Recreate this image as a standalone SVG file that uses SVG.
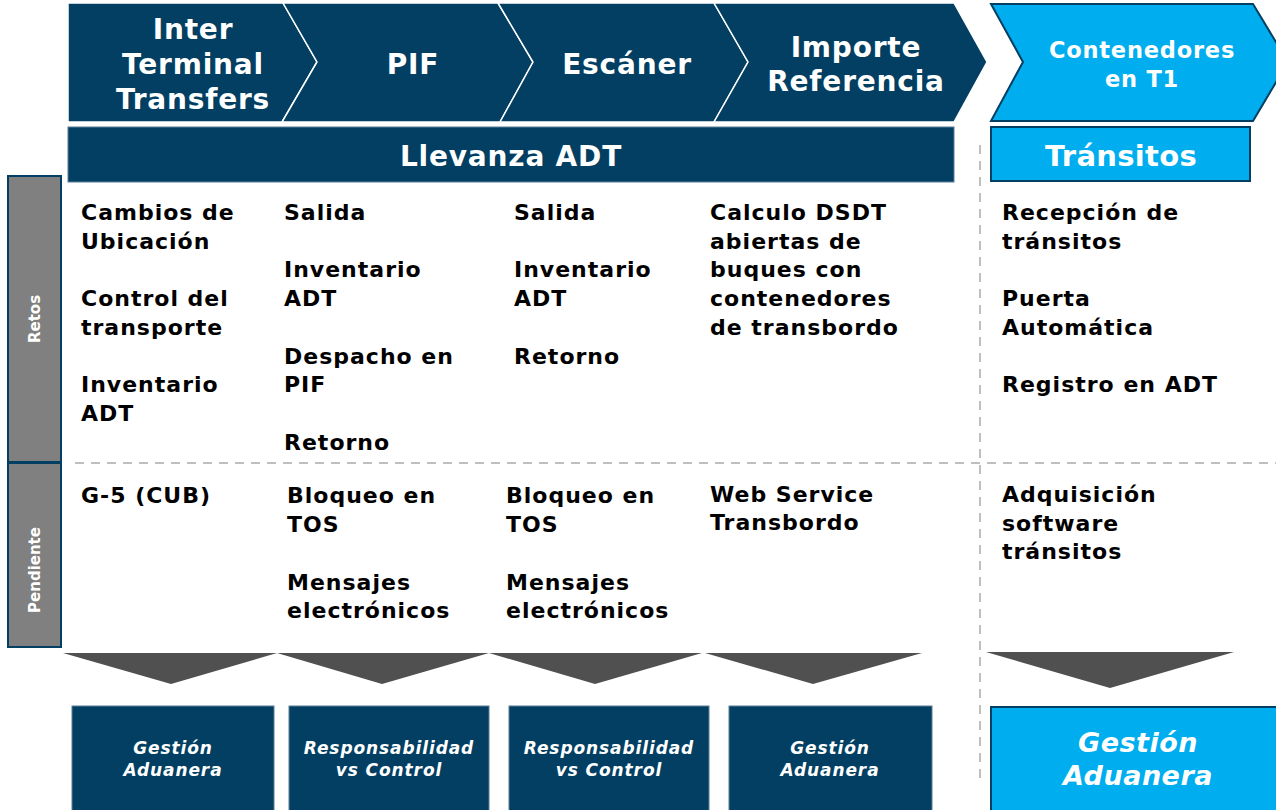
<svg xmlns="http://www.w3.org/2000/svg" width="1276" height="810" viewBox="0 0 1276 810">
<style>
.dk{fill:#023F62;stroke:#ffffff;stroke-width:1.5}
.lb{fill:#00AEEF;stroke:#023F62;stroke-width:2}
.box{fill:#023F62;stroke:#5A7E96;stroke-width:1}
.side{fill:#808080;stroke:#023F62;stroke-width:2}
.tri{fill:#505050}
.dash{stroke:#BFBFBF;stroke-width:2;stroke-dasharray:9 7;fill:none}
text{font-family:"DejaVu Sans","Verdana",sans-serif;font-weight:bold}
.hw{fill:#ffffff;font-size:28px;text-anchor:middle;letter-spacing:0.8px}
.b{fill:#000000;font-size:22px;letter-spacing:1px}
.s{fill:#ffffff;font-size:15px;text-anchor:middle}
.bi{fill:#ffffff;font-size:17px;font-style:italic;text-anchor:middle;letter-spacing:0.9px}
</style>
<g id="dividers">
<line class="dash" x1="980" y1="145" x2="980" y2="782"/>
<line class="dash" x1="75" y1="463" x2="1276" y2="463"/>
</g>
<g id="chevron-itt">
<polygon class="dk" points="68,3 283,3 317,62 282,122 68,122"/>
<text class="hw" x="193" y="39">Inter</text>
<text class="hw" x="193" y="74">Terminal</text>
<text class="hw" x="193" y="109">Transfers</text>
</g>
<g id="chevron-pif">
<polygon class="dk" points="283,3 498,3 533,62 500,122 282,122 317,62"/>
<text class="hw" x="413" y="74">PIF</text>
</g>
<g id="chevron-escaner">
<polygon class="dk" points="498,3 714,3 748,62 714,122 500,122 533,62"/>
<text class="hw" x="627" y="74">Escáner</text>
</g>
<g id="chevron-importe">
<polygon class="dk" points="714,3 954,3 987,62 954,122 714,122 748,62"/>
<text class="hw" x="856" y="57">Importe</text>
<text class="hw" x="856" y="91">Referencia</text>
</g>
<g id="chevron-t1">
<polygon class="lb" points="991,4 1253,4 1288,62 1253,121 991,121 1023,62" stroke-width="1.5"/>
<text class="hw" x="1142" y="58" style="font-size:22.5px">Contenedores</text>
<text class="hw" x="1142" y="87" style="font-size:22.5px">en T1</text>
</g>
<g id="llevanza">
<rect x="68" y="127" width="886" height="55" fill="#023F62" stroke="#5A7E96" stroke-width="1"/>
<text class="hw" x="511" y="166">Llevanza ADT</text>
</g>
<g id="transitos">
<rect class="lb" x="991" y="127" width="259" height="54"/>
<text class="hw" x="1121" y="166" style="font-size:29px;letter-spacing:0.3px">Tránsitos</text>
</g>
<g id="retos">
<rect class="side" x="8" y="176" width="53" height="286"/>
<text class="s" transform="translate(40,319) rotate(-90)">Retos</text>
</g>
<g id="pendiente">
<rect class="side" x="8" y="463" width="53" height="184"/>
<text class="s" transform="translate(40,570) rotate(-90)">Pendiente</text>
</g>
<g id="retos-itt">
<text class="b" x="81" y="220">Cambios de</text>
<text class="b" x="81" y="249">Ubicación</text>
<text class="b" x="81" y="306">Control del</text>
<text class="b" x="81" y="335">transporte</text>
<text class="b" x="81" y="392">Inventario</text>
<text class="b" x="81" y="421">ADT</text>
</g>
<g id="retos-pif">
<text class="b" x="284" y="220">Salida</text>
<text class="b" x="284" y="277">Inventario</text>
<text class="b" x="284" y="306">ADT</text>
<text class="b" x="284" y="364">Despacho en</text>
<text class="b" x="284" y="392">PIF</text>
<text class="b" x="284" y="450">Retorno</text>
</g>
<g id="retos-escaner">
<text class="b" x="514" y="220">Salida</text>
<text class="b" x="514" y="277">Inventario</text>
<text class="b" x="514" y="306">ADT</text>
<text class="b" x="514" y="364">Retorno</text>
</g>
<g id="retos-importe">
<text class="b" x="710" y="220">Calculo DSDT</text>
<text class="b" x="710" y="249">abiertas de</text>
<text class="b" x="710" y="277">buques con</text>
<text class="b" x="710" y="306">contenedores</text>
<text class="b" x="710" y="335">de transbordo</text>
</g>
<g id="retos-t1">
<text class="b" x="1002" y="220">Recepción de</text>
<text class="b" x="1002" y="249">tránsitos</text>
<text class="b" x="1002" y="306">Puerta</text>
<text class="b" x="1002" y="335">Automática</text>
<text class="b" x="1002" y="392">Registro en ADT</text>
</g>
<g id="pend-itt">
<text class="b" x="81" y="503">G-5 (CUB)</text>
</g>
<g id="pend-pif">
<text class="b" x="287" y="503">Bloqueo en</text>
<text class="b" x="287" y="532">TOS</text>
<text class="b" x="287" y="590">Mensajes</text>
<text class="b" x="287" y="618">electrónicos</text>
</g>
<g id="pend-escaner">
<text class="b" x="506" y="503">Bloqueo en</text>
<text class="b" x="506" y="532">TOS</text>
<text class="b" x="506" y="590">Mensajes</text>
<text class="b" x="506" y="618">electrónicos</text>
</g>
<g id="pend-importe">
<text class="b" x="710" y="502">Web Service</text>
<text class="b" x="710" y="530">Transbordo</text>
</g>
<g id="pend-t1">
<text class="b" x="1002" y="502">Adquisición</text>
<text class="b" x="1002" y="531">software</text>
<text class="b" x="1002" y="559">tránsitos</text>
</g>
<g id="arrows">
<polygon class="tri" points="63,653 277,653 171,684"/>
<polygon class="tri" points="277,653 489,653 382,684"/>
<polygon class="tri" points="489,653 702,653 595,684"/>
<polygon class="tri" points="705,653 922,653 813,684"/>
<polygon class="tri" points="986,652 1234,652 1110,688"/>
</g>
<g id="out-1">
<rect class="box" x="72" y="706" width="202" height="110"/>
<text class="bi" x="173" y="754">Gestión</text>
<text class="bi" x="173" y="776">Aduanera</text>
</g>
<g id="out-2">
<rect class="box" x="289" y="706" width="200" height="110"/>
<text class="bi" x="389" y="754">Responsabilidad</text>
<text class="bi" x="389" y="776">vs Control</text>
</g>
<g id="out-3">
<rect class="box" x="509" y="706" width="200" height="110"/>
<text class="bi" x="609" y="754">Responsabilidad</text>
<text class="bi" x="609" y="776">vs Control</text>
</g>
<g id="out-4">
<rect class="box" x="729" y="706" width="203" height="110"/>
<text class="bi" x="830" y="754">Gestión</text>
<text class="bi" x="830" y="776">Aduanera</text>
</g>
<g id="out-5">
<rect class="lb" x="991" y="707" width="300" height="110"/>
<text class="bi" x="1138" y="752" style="font-size:27px;letter-spacing:0.5px">Gestión</text>
<text class="bi" x="1138" y="785" style="font-size:27px;letter-spacing:0.5px">Aduanera</text>
</g>
</svg>
